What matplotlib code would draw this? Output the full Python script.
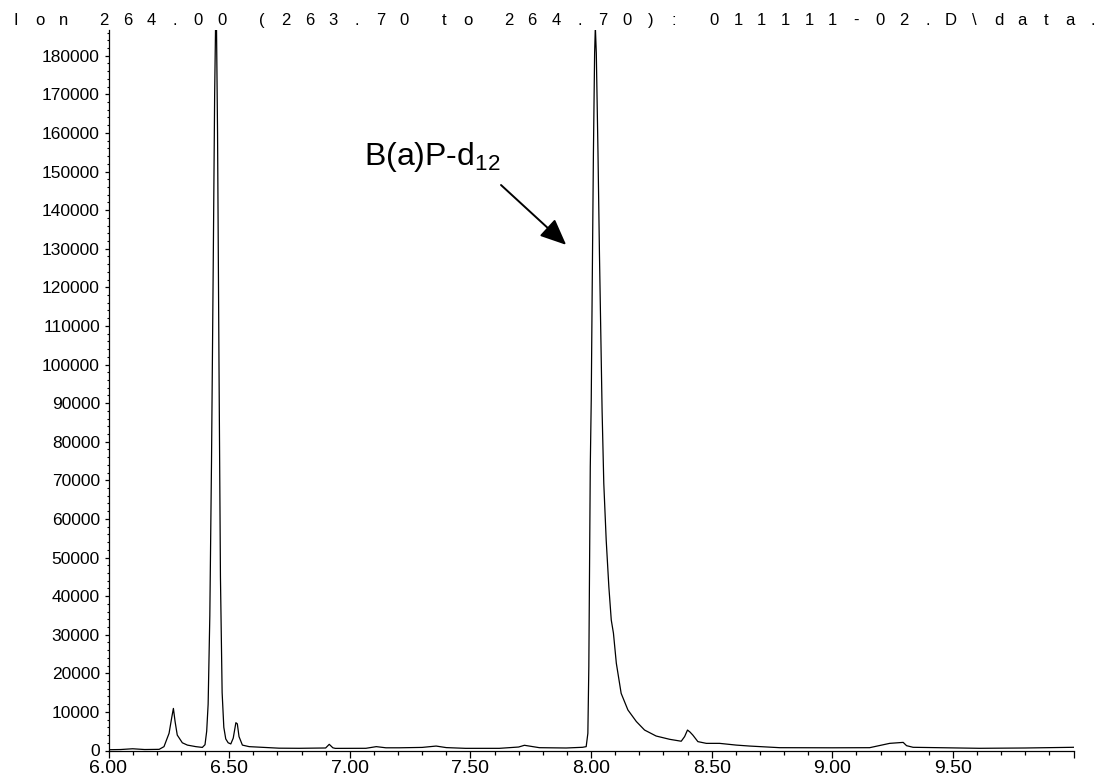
import matplotlib
matplotlib.use("Agg")
import matplotlib.pyplot as plt
from matplotlib.ticker import MultipleLocator, FixedLocator

plt.rcParams['font.family'] = ['Liberation Sans', 'DejaVu Sans']
plt.rcParams['mathtext.fontset'] = 'custom'
plt.rcParams['mathtext.rm'] = 'Liberation Sans'

# Chromatogram: retention time (min) and abundance
time = [6.00, 6.05, 6.10, 6.15, 6.21, 6.23, 6.251, 6.262, 6.269, 6.276,
        6.285, 6.306, 6.327, 6.362, 6.389, 6.400, 6.407, 6.413, 6.420, 6.427,
        6.434, 6.440, 6.446, 6.452, 6.458, 6.464, 6.471, 6.478, 6.486, 6.496,
        6.507, 6.517, 6.528, 6.534, 6.541, 6.555, 6.583, 6.645, 6.707, 6.79,
        6.90, 6.915, 6.93, 6.94, 7.067, 7.11, 7.15, 7.205, 7.30, 7.358,
        7.40, 7.48, 7.62, 7.70, 7.724, 7.786, 7.897, 7.965, 7.980, 7.987,
        7.991, 7.994, 7.997, 8.001, 8.005, 8.010, 8.015, 8.018, 8.022, 8.029,
        8.035, 8.042, 8.046, 8.053, 8.063, 8.074, 8.084, 8.093, 8.105, 8.125,
        8.153, 8.188, 8.222, 8.27, 8.326, 8.374, 8.388, 8.40, 8.41, 8.422,
        8.443, 8.478, 8.533, 8.602, 8.658, 8.782, 9.00, 9.155, 9.238, 9.294,
        9.308, 9.335, 9.61, 9.80, 10.00]
abundance = [200, 250, 450, 250, 300, 1000, 4450, 8500, 10900, 7500,
             4000, 2000, 1400, 1000, 800, 1500, 5000, 12000, 35000, 75000,
             125000, 170000, 198000, 160000, 100000, 45000, 15000, 6000, 3000, 2000,
             1700, 3200, 7200, 6900, 3600, 1400, 1000, 800, 600, 570,
             650, 1600, 700, 550, 570, 1000, 700, 700, 800, 1150,
             750, 560, 560, 900, 1350, 730, 650, 830, 1000, 4450,
             21700, 47600, 73500, 90800, 120000, 154700, 180600, 187500, 180600, 154700,
             128800, 102900, 88000, 69200, 54500, 42400, 33800, 30400, 22600, 14800,
             10500, 7500, 5300, 3750, 2900, 2400, 3600, 5300, 4800, 4000,
             2300, 1850, 1850, 1400, 1150, 730, 700, 730, 1850, 2100,
             1250, 830, 570, 650, 830]

x_major = [6.0, 6.5, 7.0, 7.5, 8.0, 8.5, 9.0, 9.5, 10.0]
x_labels = ["6.00", "6.50", "7.00", "7.50", "8.00", "8.50", "9.00", "9.50", ""]
title = "Ion 264.00 (263.70 to 264.70): 011111-02.D\\data."
label = r"B(a)P-d$_{\mathregular{12}}$"

W, H = 1102, 776
fig = plt.figure(figsize=(W / 100, H / 100), dpi=100)
ax = fig.add_axes([108.5 / W, 25.5 / H, 965 / W, 720.5 / H])

ax.plot(time, abundance, color='black', lw=0.9)

ax.set_xlim(6.0, 10.0)
ax.set_ylim(0, 186660)

for s in ['top', 'right']:
    ax.spines[s].set_visible(False)
for s in ['left', 'bottom']:
    ax.spines[s].set_linewidth(0.9)

ax.xaxis.set_major_locator(FixedLocator(x_major))
ax.set_xticklabels(x_labels)
ax.xaxis.set_minor_locator(MultipleLocator(0.1))
ax.yaxis.set_major_locator(MultipleLocator(10000))
ax.yaxis.set_minor_locator(MultipleLocator(2000))
ax.yaxis.set_major_formatter(plt.FuncFormatter(lambda v, p: "%d" % v))

ax.tick_params(axis='x', which='major', length=5, width=0.9, labelsize=14, pad=2)
ax.tick_params(axis='x', which='minor', length=2.8, width=0.9)
ax.tick_params(axis='y', which='major', length=3.2, width=0.9, labelsize=12.5, pad=3)
ax.tick_params(axis='y', which='minor', length=1.7, width=0.8)

# spaced-out header: fixed slot per character, narrower slot for blanks
xpos = 16.0
for ch in title:
    if ch == ' ':
        xpos += 16.6
        continue
    fig.text(xpos / W, 1 - 20.5 / H, ch, ha='center', va='center', fontsize=12)
    xpos += 23.67

# peak label and arrow
ax.text(7.06, 151700, label, fontsize=23, ha='left', va='baseline')
ax.annotate('', xy=(7.897, 131000), xytext=(7.627, 146500),
            arrowprops=dict(arrowstyle='-|>,head_length=0.8,head_width=0.35',
                            color='black', lw=1.4, mutation_scale=20,
                            shrinkA=0, shrinkB=0))

fig.savefig('out.png', dpi=100)
